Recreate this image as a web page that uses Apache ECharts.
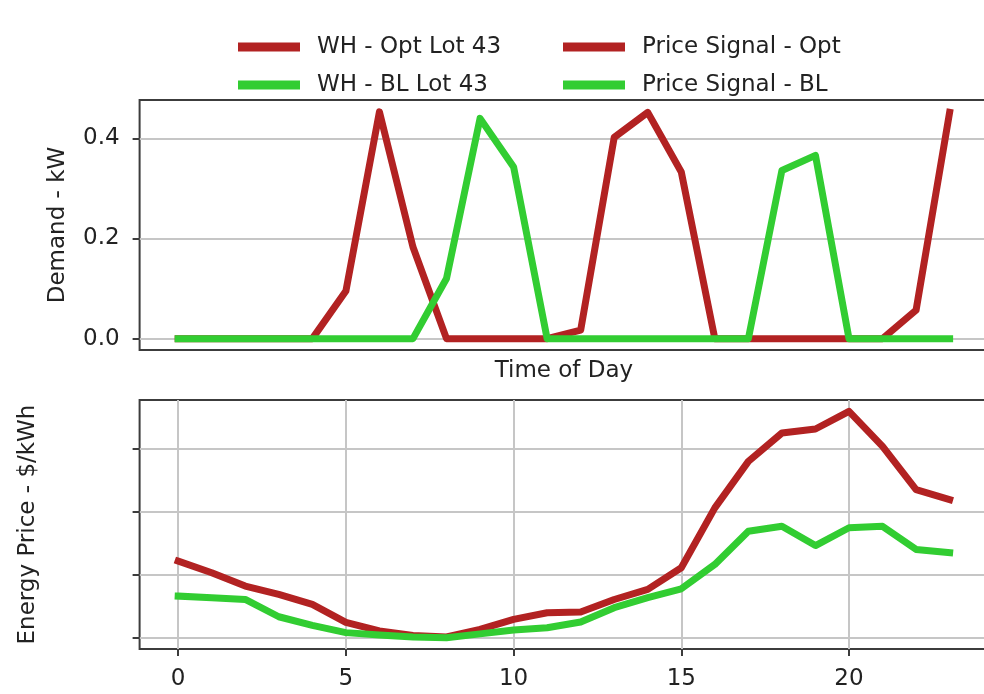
<!DOCTYPE html>
<html>
<head>
<meta charset="utf-8">
<script src="https://cdn.jsdelivr.net/npm/echarts@6/dist/echarts.min.js"></script>
<style>
  html, body { margin: 0; padding: 0; background: #ffffff; overflow: hidden; }
  /* the plot area runs a little past the right edge of the page */
  #chart { width: 1000px; height: 694px; }
</style>
</head>
<body>
<div id="chart"></div>
<script>
// Hour of day for every sample
const hours = [0, 1, 2, 3, 4, 5, 6, 7, 8, 9, 10, 11, 12, 13, 14, 15, 16, 17, 18, 19, 20, 21, 22, 23];

// Water heater demand (kW), optimised vs baseline schedule
const whOpt = [0, 0, 0, 0, 0, 0.095, 0.453, 0.183, 0, 0, 0, 0, 0.017, 0.402, 0.452, 0.333, 0, 0, 0, 0, 0, 0, 0.057, 0.452];
const whBL  = [0, 0, 0, 0, 0, 0, 0, 0, 0.120, 0.440, 0.343, 0, 0, 0, 0, 0, 0, 0, 0.336, 0.366, 0, 0, 0, 0];

// Energy price signal ($/kWh), optimised vs baseline
const priceOpt = [0.1107, 0.1015, 0.0909, 0.0843, 0.0764, 0.0621, 0.0554, 0.0518, 0.0506, 0.0566, 0.0645, 0.0698,
                  0.0703, 0.0803, 0.0883, 0.1055, 0.1530, 0.1899, 0.2124, 0.2156, 0.2296, 0.2018, 0.1675, 0.1596];
const priceBL  = [0.0830, 0.0817, 0.0803, 0.0666, 0.0597, 0.0540, 0.0521, 0.0505, 0.0500, 0.0530, 0.0560, 0.0579,
                  0.0624, 0.0738, 0.0817, 0.0888, 0.1081, 0.1345, 0.1384, 0.1231, 0.1372, 0.1384, 0.1200, 0.1174];

// Tick positions
const hourTicks   = [0, 5, 10, 15, 20];
const demandTicks = [0, 0.2, 0.4];
const priceTicks  = [0.05, 0.10, 0.15, 0.20];

// Series names
const names = ['WH - Opt Lot 43', 'WH - BL Lot 43', 'Price Signal - Opt', 'Price Signal - BL'];

const FONT = 'DejaVu Sans';
const TXT = '#222222';
const RED = '#b22222';
const GREEN = '#32cd32';
const GRIDC = '#c6c6c6';
const FRAME = '#3c3c3c';

const pairs = (vals) => hours.map((h, i) => [h, vals[i]]);

function lineSeries(name, color, vals, idx) {
  return {
    name: name,
    type: 'line',
    xAxisIndex: idx,
    yAxisIndex: idx,
    data: pairs(vals),
    symbol: 'none',
    showSymbol: false,
    silent: true,
    color: color,
    itemStyle: { color: color },
    lineStyle: { color: color, width: 7, cap: 'square', join: 'round' },
    emphasis: { disabled: true }
  };
}

const legendText = { fontFamily: FONT, fontSize: 23, color: TXT, lineHeight: 24, padding: [0, 0, 0, 12] };
const tickStyle = { color: FRAME, width: 2 };

const option = {
  animation: false,
  backgroundColor: '#ffffff',
  textStyle: { fontFamily: FONT },
  legend: [
    {
      orient: 'vertical', left: 238, top: 35, padding: 0,
      itemWidth: 62, itemHeight: 9, itemGap: 14, icon: 'rect',
      selectedMode: false,
      data: [names[0], names[1]],
      textStyle: legendText
    },
    {
      orient: 'vertical', left: 563, top: 35, padding: 0,
      itemWidth: 62, itemHeight: 9, itemGap: 14, icon: 'rect',
      selectedMode: false,
      data: [names[2], names[3]],
      textStyle: legendText
    }
  ],
  grid: [
    { left: 139.6, width: 848.6, top: 100, height: 250, show: true, borderColor: FRAME, borderWidth: 2, backgroundColor: 'transparent' },
    { left: 139.6, width: 848.6, top: 400, height: 249, show: true, borderColor: FRAME, borderWidth: 2, backgroundColor: 'transparent' }
  ],
  xAxis: [
    {
      gridIndex: 0, type: 'value', min: -1.15, max: 24.15,
      name: 'Time of Day', nameLocation: 'middle', nameGap: 10,
      nameTextStyle: { fontFamily: FONT, fontSize: 23, color: TXT, verticalAlign: 'top' },
      axisLine: { show: false, onZero: false }, axisTick: { show: false },
      axisLabel: { show: false }, splitLine: { show: false }
    },
    {
      gridIndex: 1, type: 'value', min: -1.15, max: 24.15,
      axisLine: { show: false, onZero: false },
      axisTick: { show: true, length: 7, customValues: hourTicks, lineStyle: tickStyle },
      axisLabel: { show: true, customValues: hourTicks, fontFamily: FONT, fontSize: 23, color: TXT, margin: 19 },
      splitLine: { show: true, lineStyle: { color: GRIDC, width: 2 } }
    }
  ],
  yAxis: [
    {
      gridIndex: 0, type: 'value', min: -0.0227, max: 0.4767,
      name: 'Demand - kW', nameLocation: 'middle', nameRotate: 90, nameGap: 70,
      nameTextStyle: { fontFamily: FONT, fontSize: 23, color: TXT },
      axisLine: { show: false, onZero: false },
      axisTick: { show: true, length: 7, customValues: demandTicks, lineStyle: tickStyle },
      axisLabel: { show: true, customValues: demandTicks, fontFamily: FONT, fontSize: 23, color: TXT, margin: 20,
                   formatter: (v) => v.toFixed(1) },
      splitLine: { show: true, lineStyle: { color: GRIDC, width: 2 } }
    },
    {
      gridIndex: 1, type: 'value', min: 0.0410, max: 0.2386,
      name: 'Energy Price - $/kWh', nameLocation: 'middle', nameRotate: 90, nameGap: 100,
      nameTextStyle: { fontFamily: FONT, fontSize: 23, color: TXT },
      axisLine: { show: false, onZero: false },
      axisTick: { show: true, length: 7, customValues: priceTicks, lineStyle: tickStyle },
      axisLabel: { show: false, customValues: priceTicks },
      splitLine: { show: true, lineStyle: { color: GRIDC, width: 2 } }
    }
  ],
  series: [
    lineSeries(names[0], RED, whOpt, 0),
    lineSeries(names[1], GREEN, whBL, 0),
    lineSeries(names[2], RED, priceOpt, 1),
    lineSeries(names[3], GREEN, priceBL, 1)
  ]
};

const chart = echarts.init(document.getElementById('chart'), null, { renderer: 'canvas' });
chart.setOption(option);
</script>
</body>
</html>
